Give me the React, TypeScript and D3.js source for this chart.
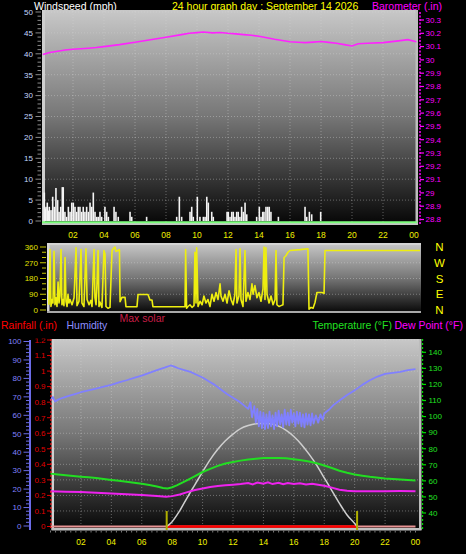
import React from "react";
import * as d3 from "d3";

const hourTicks = [2, 4, 6, 8, 10, 12, 14, 16, 18, 20, 22, 24];
const hourLabels = ["02", "04", "06", "08", "10", "12", "14", "16", "18", "20", "22", "00"];
const windTicks = [0, 5, 10, 15, 20, 25, 30, 35, 40, 45, 50];
const baroTicks = [28.8, 28.9, 29.0, 29.1, 29.2, 29.3, 29.4, 29.5, 29.6, 29.7, 29.8, 29.9, 30.0, 30.1, 30.2, 30.3];
const dirTicks = [0, 90, 180, 270, 360];
const compassLetters = ["N", "E", "S", "W", "N"];
const humTicks = [0, 10, 20, 30, 40, 50, 60, 70, 80, 90, 100];
const rainTicks = [0, 0.1, 0.2, 0.3, 0.4, 0.5, 0.6, 0.7, 0.8, 0.9, 1.0, 1.1, 1.2];
const tempTicks = [40, 50, 60, 70, 80, 90, 100, 110, 120, 130, 140];

// wind gusts [hour, mph]
const windGust: [number, number][] = [
  [0.15, 6.8], [0.21, 3.0], [0.26, 3.4], [0.34, 4.4], [0.42, 2.5], [0.47, 3.4], [0.58, 2.6], [0.69, 5.8],
  [0.79, 3.4], [0.9, 7.9], [1.01, 5.0], [1.1, 2.2], [1.21, 3.4], [1.31, 8.1], [1.37, 8.1], [1.48, 2.2],
  [1.59, 1.0], [1.7, 3.4], [1.81, 2.2], [1.92, 4.4], [2.02, 4.4], [2.13, 3.4], [2.24, 2.2], [2.34, 3.4],
  [2.45, 3.4], [2.56, 2.2], [2.66, 3.4], [2.77, 2.2], [2.88, 3.4], [2.99, 2.2], [3.1, 4.4], [3.21, 3.4],
  [3.31, 6.8], [3.42, 2.2], [3.53, 1.0], [3.63, 1.0], [3.74, 2.2], [3.85, 1.0], [4.06, 3.4], [4.17, 2.2],
  [4.28, 1.0], [4.65, 3.4], [4.77, 2.2], [4.92, 1.0], [5.68, 2.2], [5.79, 1.0], [6.75, 1.0], [8.69, 1.0],
  [8.86, 5.8], [9.01, 1.0], [9.55, 2.2], [9.66, 3.4], [9.76, 1.0], [10.02, 5.8], [10.19, 1.0], [10.41, 1.0],
  [10.52, 1.0], [10.63, 5.8], [10.73, 4.4], [10.95, 2.2], [11.05, 1.0], [11.94, 2.2], [12.02, 2.2], [12.13, 1.0],
  [12.24, 2.2], [12.34, 2.2], [12.45, 1.0], [12.56, 2.2], [12.66, 2.2], [12.77, 1.0], [12.88, 3.4], [12.99, 2.2],
  [13.1, 4.4], [13.21, 1.6], [13.85, 1.0], [14.02, 3.4], [14.13, 1.0], [14.24, 2.2], [14.32, 2.2], [14.45, 3.4],
  [14.56, 3.4], [14.66, 3.4], [14.77, 2.2], [15.25, 1.0], [16.97, 3.4], [17.08, 1.0], [17.25, 2.2], [17.4, 1.6],
  [17.98, 2.2],
];
const windAvg: [number, number][] = [[0, 0], [24.2, 0]];

// barometer [hour, inHg]
const baro: [number, number][] = [
  [0.05, 30.04], [0.5, 30.055], [1, 30.065], [1.5, 30.075], [2, 30.08], [3, 30.088], [3.5, 30.093], [4, 30.1],
  [5, 30.115], [6, 30.133], [7, 30.152], [8, 30.17], [9, 30.19], [9.5, 30.2], [10, 30.205], [10.4, 30.21],
  [11, 30.203], [11.5, 30.206], [12, 30.2], [12.5, 30.196], [13, 30.19], [13.5, 30.185], [14, 30.178],
  [15, 30.155], [16, 30.137], [16.5, 30.133], [17, 30.13], [17.5, 30.134], [18, 30.138], [18.5, 30.132],
  [19, 30.125], [19.5, 30.115], [20, 30.105], [20.4, 30.122], [21, 30.125], [22, 30.13], [23, 30.143],
  [23.6, 30.152], [24.15, 30.137],
];

// wind direction [hour, degrees]
const windDir: [number, number][] = [
  [0.06, 30], [0.13, 345], [0.19, 20], [0.26, 60], [0.32, 40], [0.39, 335], [0.45, 30], [0.52, 70], [0.58, 20],
  [0.65, 160], [0.71, 40], [0.77, 80], [0.84, 345], [0.9, 30], [0.97, 60], [1.03, 25], [1.1, 300], [1.16, 50],
  [1.23, 20], [1.29, 90], [1.35, 40], [1.42, 60], [1.55, 30], [1.68, 70], [1.81, 355], [1.87, 25], [2.0, 50],
  [2.13, 345], [2.19, 40], [2.32, 20], [2.45, 350], [2.52, 60], [2.65, 30], [2.77, 55], [2.84, 20], [2.97, 345],
  [3.03, 70], [3.1, 30], [3.16, 150], [3.23, 340], [3.29, 20], [3.35, 45], [3.48, 15], [3.61, 340], [3.68, 320],
  [3.74, 20], [3.87, 10], [4.0, 15], [4.13, 340], [4.26, 355], [4.32, 360], [4.39, 335], [4.52, 340], [4.61, 345],
  [4.65, 47], [4.77, 72], [4.97, 72], [5.03, 19], [5.74, 19], [5.81, 89], [6.45, 89], [6.58, 57], [6.71, 57],
  [6.77, 19], [8.84, 19], [8.88, 345], [8.94, 10], [9.03, 20], [9.16, 30], [9.29, 15], [9.42, 25], [9.48, 330],
  [9.55, 40], [9.59, 355], [9.68, 20], [9.81, 50], [9.94, 30], [10.06, 80], [10.19, 40], [10.32, 60], [10.45, 20],
  [10.58, 90], [10.71, 50], [10.84, 100], [10.97, 60], [11.1, 150], [11.16, 80], [11.29, 50], [11.42, 90],
  [11.55, 40], [11.68, 110], [11.81, 60], [11.94, 30], [12.06, 90], [12.13, 345], [12.19, 40], [12.32, 80],
  [12.39, 350], [12.45, 60], [12.58, 20], [12.71, 340], [12.77, 50], [12.9, 100], [13.03, 60], [13.16, 150],
  [13.23, 90], [13.35, 140], [13.48, 70], [13.61, 100], [13.74, 50], [13.87, 120], [13.94, 360], [14.0, 60],
  [14.06, 355], [14.13, 90], [14.26, 40], [14.39, 80], [14.52, 30], [14.65, 60], [14.71, 340], [14.77, 30],
  [14.9, 20], [15.03, 25], [15.16, 30], [15.23, 300], [15.35, 310], [15.48, 330], [15.61, 340], [16.26, 345],
  [16.77, 350], [16.84, 5], [16.97, 15], [17.1, 10], [17.23, 45], [17.35, 100], [17.68, 100], [17.81, 95],
  [17.87, 340], [24.0, 340],
];

// humidity [hour, %]
const humidity: [number, number][] = [
  [0.0, 68], [0.15, 70], [0.3, 67.5], [0.5, 68.5], [0.8, 69.5], [1.2, 70.5], [1.6, 71.5], [2.0, 72.5], [2.5, 73.5],
  [3.0, 74.5], [3.5, 75.5], [4.0, 76.5], [4.5, 77.8], [5.0, 79], [5.5, 80.3], [6.0, 81.5], [6.5, 83], [7.0, 84.5],
  [7.5, 85.8], [7.9, 87], [8.1, 86.5], [8.4, 85.5], [8.8, 84.5], [9.2, 83.5], [9.6, 82], [10.0, 80.5], [10.4, 78.5],
  [10.8, 76.5], [11.2, 74], [11.6, 71.5], [12.0, 69.5], [12.4, 67.5], [12.7, 65.5], [13.0, 63.5], [13.15, 67],
  [13.25, 59], [13.4, 65], [13.5, 56], [13.6, 63.5], [13.7, 54], [13.8, 62], [13.9, 53], [14.0, 61.5], [14.1, 52.5],
  [14.2, 60.5], [14.3, 53], [14.4, 62], [14.5, 54], [14.6, 60], [14.7, 52.5], [14.8, 61.5], [14.9, 54],
  [15.0, 62.5], [15.1, 55], [15.2, 60.5], [15.3, 53.5], [15.4, 63], [15.5, 55], [15.6, 61.5], [15.7, 54.5],
  [15.8, 63], [15.9, 56], [16.0, 61], [16.1, 54], [16.2, 62], [16.3, 55.5], [16.4, 61.5], [16.5, 54],
  [16.6, 60.5], [16.7, 53.5], [16.8, 61], [16.9, 55], [17.0, 60.5], [17.1, 54.5], [17.2, 61], [17.3, 55.5],
  [17.45, 60], [17.6, 56], [17.75, 60.5], [17.9, 57.5], [18.0, 61], [18.3, 63], [18.6, 65.5], [19.0, 68],
  [19.5, 71], [20.0, 73.5], [20.5, 76.5], [21.0, 79], [21.5, 81], [22.0, 82.5], [22.5, 83], [23.0, 83.5],
  [23.5, 84.5], [24.0, 85],
];

// temperature [hour, °F]
const temperature: [number, number][] = [
  [0, 64.5], [0.5, 64], [1, 63.5], [1.5, 63], [2, 62.6], [2.5, 62.2], [3, 61.8], [3.5, 61.2], [4, 60.6],
  [4.5, 60], [5, 59.4], [5.5, 58.8], [6, 58.2], [6.5, 57.4], [7, 56.5], [7.4, 55.6], [7.7, 55.3], [8, 56],
  [8.3, 57.2], [8.7, 59], [9, 60.5], [9.5, 63], [10, 65.5], [10.5, 67.5], [11, 69.3], [11.5, 70.8], [12, 71.8],
  [12.5, 72.6], [13, 73.3], [13.5, 73.8], [14, 74.2], [14.5, 74.3], [15, 74.2], [15.5, 74], [16, 73.5],
  [16.5, 72.8], [17, 72], [17.5, 71], [18, 69.6], [18.5, 68], [19, 66.3], [19.5, 65], [20, 64], [20.5, 63.2],
  [21, 62.5], [22, 61.5], [23, 60.8], [24, 60.2],
];

// dew point [hour, °F]
const dewPoint: [number, number][] = [
  [0, 53.6], [0.5, 53.4], [1, 53.3], [2, 53], [3, 52.6], [4, 52.2], [5, 51.7], [6, 51.2], [7, 50.6], [7.6, 50.1],
  [8, 50.5], [8.5, 51.5], [9, 53], [9.5, 54.3], [10, 55.3], [10.5, 56.2], [11, 56.8], [11.5, 57.3], [12, 57.6],
  [12.5, 58], [13, 58.6], [13.3, 57.8], [13.6, 59], [14, 58.2], [14.3, 59.1], [14.6, 58], [15, 58.8],
  [15.3, 57.9], [15.6, 58.6], [16, 58], [16.4, 58.5], [16.8, 57.8], [17.2, 58.2], [17.6, 57.6], [18, 57],
  [18.5, 55.8], [19, 54.5], [19.5, 53.8], [20, 53.6], [21, 53.5], [22, 53.6], [23, 53.7], [24, 53.6],
];

// max solar [hour, W/m2]
const maxSolar: [number, number][] = [
  [7.64, 0], [8, 40], [8.5, 130], [9, 240], [9.5, 345], [10, 450], [10.5, 550], [11, 635], [11.5, 705],
  [12, 760], [12.5, 805], [13, 830], [13.5, 845], [14, 850], [14.5, 845], [15, 825], [15.5, 790], [16, 740],
  [16.5, 675], [17, 595], [17.5, 505], [18, 400], [18.5, 295], [19, 190], [19.5, 95], [20, 25], [20.16, 0],
];

const rainfall: [number, number][] = [[0, 0], [24, 0]];
const sunTimes = [7.64, 20.16];

const FONT = "'Liberation Sans', Arial, sans-serif";

export default function App() {
  const xTop = d3.scaleLinear().domain([0, 24]).range([42, 414]);
  const yWind = d3.scaleLinear().domain([0, 50]).range([221, 12]);
  const yBaro = d3.scaleLinear().domain([28.8, 30.3]).range([219.5, 20]);
  const xMid = d3.scaleLinear().domain([0, 24]).range([48, 420]);
  const yDir = d3.scaleLinear().domain([0, 360]).range([310, 247]);
  const xBot = d3.scaleLinear().domain([0, 24]).range([50.5, 415.5]);
  const yHum = d3.scaleLinear().domain([0, 100]).range([526, 341.5]);
  const yRain = d3.scaleLinear().domain([0, 1.2]).range([526.5, 340]);
  const yTemp = d3.scaleLinear().domain([40, 140]).range([513, 352.3]);
  const ySolar = d3.scaleLinear().domain([0, 1550]).range([526.5, 338]);

  const baroLine = d3.line<[number, number]>().x((d) => xTop(d[0])).y((d) => yBaro(d[1]));
  const avgLine = d3.line<[number, number]>().x((d) => xTop(d[0])).y((d) => yWind(d[1]));
  const dirLine = d3.line<[number, number]>().x((d) => xMid(d[0])).y((d) => yDir(d[1]));
  const humLine = d3.line<[number, number]>().x((d) => xBot(d[0])).y((d) => yHum(d[1]));
  const tempLine = d3.line<[number, number]>().x((d) => xBot(d[0])).y((d) => yTemp(d[1]));
  const solarLine = d3.line<[number, number]>().x((d) => xBot(d[0])).y((d) => ySolar(d[1])).curve(d3.curveMonotoneX);
  const rainLine = d3.line<[number, number]>().x((d) => xBot(d[0])).y((d) => yRain(d[1]));

  const windMinor = d3.range(0, 51, 1);
  const humMinor = d3.range(0, 101, 2);
  const dirMinor = d3.range(0, 361, 30);
  const botMinor = d3.range(0, 24.01, 1 / 3);

  const plotBg = (id: string) => (
    <linearGradient id={id} x1="0" y1="0" x2="0" y2="1">
      <stop offset="0" stopColor="#c8c8c8" />
      <stop offset="0.5" stopColor="#767676" />
      <stop offset="1" stopColor="#060606" />
    </linearGradient>
  );

  const gridStyle = { stroke: "#d8d8d8", strokeOpacity: 0.4, strokeWidth: 1, strokeDasharray: "1 2" };

  return (
    <svg width={466} height={554} style={{ position: "absolute", left: 0, top: 0, background: "#000" }} fontFamily={FONT}>
      <defs>
        {plotBg("gTop")}
        {plotBg("gMid")}
        {plotBg("gBot")}
        <clipPath id="rainClip"><rect x={0} y={338.5} width={60} height={200} /></clipPath>
      </defs>
      <rect x={0} y={0} width={466} height={554} fill="#000" />

      {/* ============ TOP PANEL ============ */}
      <text x={34} y={9.5} fill="#ffffff" fontSize={10.5}>Windspeed (mph)</text>
      <text x={172} y={9.5} fill="#ffff00" fontSize={10.5}>24 hour graph day : September 14 2026</text>
      <text x={372} y={9.5} fill="#ff00ff" fontSize={10.5}>Barometer (.in)</text>

      <rect x={43} y={10} width={375} height={214} fill="url(#gTop)" />
      {windTicks.filter((t) => t > 0).map((t) => (
        <line key={"wg" + t} x1={45} x2={416} y1={yWind(t)} y2={yWind(t)} {...gridStyle} />
      ))}
      {hourTicks.slice(0, 11).map((h) => (
        <line key={"vg" + h} x1={xTop(h)} x2={xTop(h)} y1={11} y2={222} {...gridStyle} />
      ))}
      <rect x={42} y={10} width={3} height={215} fill="#cfcfcf" />
      <rect x={415.5} y={10} width={2.5} height={215} fill="#bdbdbd" />
      <rect x={42} y={223} width={376} height={2} fill="#c4c4c4" />

      {windGust.map((d, i) => (
        <rect key={"wb" + i} x={xTop(d[0]) - 0.8} width={1.6} y={yWind(d[1])} height={yWind(0) - yWind(d[1])} fill="#f4f4f4" />
      ))}
      <path d={avgLine(windAvg) || ""} fill="none" stroke="#7cff7c" strokeWidth={2} transform="translate(0,1.2)" />
      <path d={baroLine(baro) || ""} fill="none" stroke="#ff22ff" strokeWidth={1.6} />

      {/* wind axis */}
      {windMinor.map((t) => (
        <line key={"wm" + t} x1={t % 5 === 0 ? 35.5 : 37.5} x2={41} y1={yWind(t)} y2={yWind(t)} stroke="#8a8a8a" strokeWidth={1} />
      ))}
      {windTicks.map((t) => (
        <text key={"wl" + t} x={33} y={yWind(t)} dy="0.35em" textAnchor="end" fill="#c4d8ff" fontSize={8}>{t}</text>
      ))}
      {/* barometer axis */}
      <line x1={420} x2={420} y1={12} y2={224} stroke="#ff00ff" strokeWidth={1.5} strokeDasharray="2 1.5" />
      {baroTicks.map((t) => (
        <g key={"bt" + t}>
          <line x1={420} x2={424} y1={yBaro(t)} y2={yBaro(t)} stroke="#ff00ff" strokeWidth={1.2} />
          <text x={425.5} y={yBaro(t)} dy="0.35em" fill="#ff00ff" fontSize={8}>{d3.format("")(+t.toFixed(1))}</text>
        </g>
      ))}
      {hourTicks.map((h, i) => (
        <text key={"xt" + h} x={xTop(h)} y={237.5} textAnchor="middle" fill="#f0f000" fontSize={8.5}>{hourLabels[i]}</text>
      ))}

      {/* ============ MIDDLE PANEL ============ */}
      <rect x={48} y={243} width={373} height={70} fill="url(#gMid)" />
      {dirTicks.slice(1, 4).map((t) => (
        <line key={"dg" + t} x1={50} x2={420} y1={yDir(t)} y2={yDir(t)} {...gridStyle} />
      ))}
      <rect x={47} y={243} width={374} height={2} fill="#d4d4d4" />
      <rect x={47} y={243} width={2.5} height={70} fill="#d8d8d8" />
      <rect x={47} y={311} width={374} height={2} fill="#a8a8a8" />
      <path d={dirLine(windDir) || ""} fill="none" stroke="#eeee10" strokeWidth={1.6} strokeLinejoin="round" />
      {dirMinor.map((t) => (
        <line key={"dm" + t} x1={t % 90 === 0 ? 40 : 42} x2={46} y1={yDir(t)} y2={yDir(t)} stroke="#c8c800" strokeWidth={1} />
      ))}
      {dirTicks.map((t) => (
        <text key={"dl" + t} x={38} y={yDir(t)} dy="0.35em" textAnchor="end" fill="#e0e000" fontSize={8}>{t}</text>
      ))}
      {dirTicks.map((t, i) => (
        <text key={"cl" + t} x={439.5} y={yDir(t)} dy="0.36em" textAnchor="middle" fill="#ffff00" fontSize={11.5}>{compassLetters[i]}</text>
      ))}

      {/* ============ LEGEND ROW ============ */}
      <text x={1} y={329} fill="#ff0000" fontSize={10.5}>Rainfall (.in)</text>
      <text x={66.5} y={329} fill="#8e8eff" fontSize={10.5}>Humidity</text>
      <text x={119.5} y={321.5} fill="#c81e46" fontSize={10.5}>Max solar</text>
      <text x={312.5} y={329} fill="#22e022" fontSize={10.5}>Temperature (°F)</text>
      <text x={394.5} y={329} fill="#ff00ff" fontSize={10.5}>Dew Point (°F)</text>

      {/* ============ BOTTOM PANEL ============ */}
      <rect x={52} y={339} width={369} height={191} fill="url(#gBot)" />
      {rainTicks.filter((t) => t > 0).map((t) => (
        <line key={"rg" + t} x1={54} x2={419} y1={yRain(t)} y2={yRain(t)} {...gridStyle} />
      ))}
      {hourTicks.slice(0, 11).map((h) => (
        <line key={"bg" + h} x1={xBot(h)} x2={xBot(h)} y1={340} y2={526} {...gridStyle} />
      ))}
      <rect x={51.5} y={339} width={2.5} height={191} fill="#d0d0d0" />
      <rect x={419} y={339} width={2.5} height={191} fill="#bcbcbc" />
      <rect x={51.5} y={528} width={370} height={2.5} fill="#c0c0c0" />

      <path d={rainLine(rainfall) || ""} fill="none" stroke="#e89494" strokeWidth={2} />
      <path d={rainLine([[sunTimes[0], 0], [sunTimes[1], 0]]) || ""} fill="none" stroke="#ff0000" strokeWidth={2.5} />
      <path d={solarLine(maxSolar) || ""} fill="none" stroke="#cfcfcf" strokeWidth={1.5} />
      <path d={tempLine(dewPoint) || ""} fill="none" stroke="#ee22ee" strokeWidth={2} />
      <path d={tempLine(temperature) || ""} fill="none" stroke="#22dd22" strokeWidth={2} />
      <path d={humLine(humidity) || ""} fill="none" stroke="#8080ff" strokeWidth={1.8} strokeLinejoin="round" />
      {sunTimes.map((s) => (
        <line key={"sun" + s} x1={xBot(s)} x2={xBot(s)} y1={511} y2={530} stroke="#b0b000" strokeWidth={2} />
      ))}

      {/* humidity axis */}
      <line x1={30} x2={30} y1={340} y2={530} stroke="#6c6ce8" strokeWidth={2} />
      {humMinor.map((t) => (
        <line key={"hm" + t} x1={t % 10 === 0 ? 23.5 : 26} x2={30} y1={yHum(t)} y2={yHum(t)} stroke="#6c6ce8" strokeWidth={1} />
      ))}
      {humTicks.map((t) => (
        <text key={"hl" + t} x={21.5} y={yHum(t)} dy="0.35em" textAnchor="end" fill="#8080ff" fontSize={8}>{t}</text>
      ))}
      {/* rain axis */}
      <line x1={51} x2={51} y1={339} y2={528} stroke="#ff2020" strokeWidth={1.2} strokeDasharray="2 2" />
      <g clipPath="url(#rainClip)">
        {rainTicks.map((t) => (
          <g key={"ra" + t}>
            <line x1={47} x2={51} y1={yRain(t)} y2={yRain(t)} stroke="#dd0000" strokeWidth={1} />
            <text x={45.5} y={yRain(t)} dy="0.35em" textAnchor="end" fill="#e00000" fontSize={8}>{d3.format("")(+t.toFixed(1))}</text>
          </g>
        ))}
      </g>
      {/* temperature axis */}
      <line x1={422.5} x2={422.5} y1={339} y2={530} stroke="#00dd00" strokeWidth={1.3} strokeDasharray="2 2" />
      {tempTicks.map((t) => (
        <g key={"ta" + t}>
          <line x1={422} x2={426} y1={yTemp(t)} y2={yTemp(t)} stroke="#00dd00" strokeWidth={1.2} />
          <text x={428.5} y={yTemp(t)} dy="0.35em" fill="#22e022" fontSize={8}>{t}</text>
        </g>
      ))}
      {botMinor.map((h, i) => (
        <line key={"bm" + i} x1={xBot(h)} x2={xBot(h)} y1={530.5} y2={532.5} stroke="#7a7a7a" strokeWidth={1} />
      ))}
      {hourTicks.map((h, i) => (
        <text key={"bx" + h} x={xBot(h)} y={544.5} textAnchor="middle" fill="#f0f000" fontSize={8.5}>{hourLabels[i]}</text>
      ))}
    </svg>
  );
}
